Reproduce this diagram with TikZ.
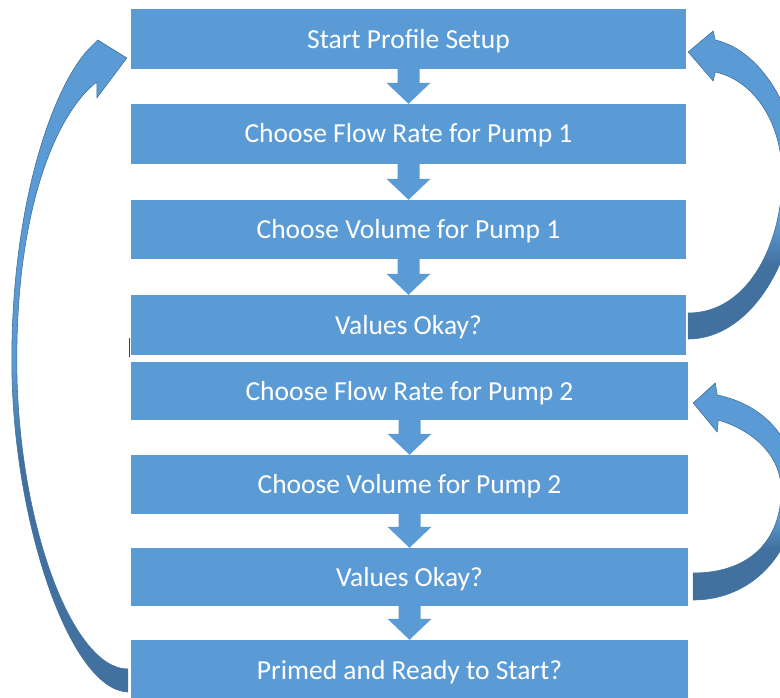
\documentclass[tikz,border=0pt]{standalone}
\usepackage{fontspec}
\setmainfont{Carlito}
\usetikzlibrary{calc}

\definecolor{boxblue}{RGB}{91,155,213}
\definecolor{ribbonlight}{RGB}{91,155,213}
\definecolor{ribbondark}{RGB}{66,113,160}
\definecolor{edgeblue}{RGB}{65,113,156}

% light upper face, darker underside of the looping ribbons
\pgfdeclareverticalshading{ribbon}{100bp}{color(0bp)=(ribbondark); color(37bp)=(ribbondark); color(44bp)=(ribbonlight); color(100bp)=(ribbonlight)}
\pgfdeclareverticalshading{ribbonlong}{100bp}{color(0bp)=(ribbondark); color(43bp)=(ribbondark); color(50bp)=(ribbonlight); color(100bp)=(ribbonlight)}

% short block arrow from the bottom of one step to the top of the next
\newcommand\dnarrow[2]{%
  \fill[flowarrow] ($(#1.south)+(-11,-1)$) -- ($(#2.north)+(-11,-21)$)
    -- ($(#2.north)+(-22,-21)$) -- (#2.north) -- ($(#2.north)+(22,-21)$)
    -- ($(#2.north)+(11,-21)$) -- ($(#1.south)+(11,-1)$) -- cycle;}

\begin{document}
\begin{tikzpicture}[x=1pt,y=-1pt,
  stepbox/.style={fill=boxblue, text=white, inner sep=0pt, minimum height=59pt,
    text height=18pt, text depth=0pt, font=\fontsize{27.5}{32}\selectfont},
  wide/.style={minimum width=555pt},
  wider/.style={minimum width=557pt},
  flowarrow/.style={fill=boxblue},
  loopback/.style={shade, shading=ribbon, draw=edgeblue, line width=0.6pt, line join=round}]

\useasboundingbox (0,0) rectangle (780,698);
\clip (0,0) rectangle (780,698);

% steps
\node[stepbox, wide, minimum height=60pt] (b1) at (408.5,39.5) {Start Profile Setup};
\node[stepbox, wide, minimum height=60pt] (b2) at (408.5,134) {Choose Flow Rate for Pump 1};
\node[stepbox, wide] (b3) at (408.5,229.5) {Choose Volume for Pump 1};
\node[stepbox, wide, minimum height=60pt] (b4) at (408.5,325) {Values Okay?};
\node[stepbox, wider, minimum height=58pt] (b5) at (409.5,391) {Choose Flow Rate for Pump 2};
\node[stepbox, wider] (b6) at (409.5,484.5) {Choose Volume for Pump 2};
\node[stepbox, wider, minimum height=58pt] (b7) at (409.5,577) {Values Okay?};
\node[stepbox, wider, minimum height=60pt] (b8) at (409.5,670) {Primed and Ready to Start?};

% forward arrows
\dnarrow{b1}{b2}
\dnarrow{b2}{b3}
\dnarrow{b3}{b4}
\dnarrow{b5}{b6}
\dnarrow{b6}{b7}
\dnarrow{b7}{b8}

% loop back: first check returns to the start
\coordinate (t1) at ($(b4.east)+(2,0)$);
\coordinate (p1) at ($(b1.east)+(2,12.5)$);
\path[loopback] ($(t1)+(0,-12)$) -- ($(t1)+(0,14)$)
  .. controls +(62,0) and +(0,85) .. ($(t1)+(110,-150)$)
  .. controls +(0,-65) and +(45,10) .. ($(p1)+(27,-12)$)
  -- ($(p1)+(25,-21)$) -- (p1) -- ($(p1)+(25,29)$) -- ($(p1)+(27,20)$)
  .. controls +(37,8) and +(0,-57) .. ($(t1)+(94,-148)$)
  .. controls +(0,63) and +(62,0) .. ($(t1)+(0,-12)$) -- cycle;

% loop back: second check returns to pump 2 flow rate
\coordinate (t2) at ($(b7.east)+(5,9)$);
\coordinate (p2) at ($(b5.east)+(5,12)$);
\path[loopback] ($(t2)+(0,-13)$) -- ($(t2)+(0,14)$)
  .. controls +(57,0) and +(0,65) .. ($(t2)+(103,-96)$)
  .. controls +(0,-50) and +(48,10) .. ($(p2)+(24,-8)$)
  -- ($(p2)+(22,-20)$) -- (p2) -- ($(p2)+(24,29)$) -- ($(p2)+(25,17)$)
  .. controls +(34,10) and +(0,-35) .. ($(t2)+(88,-96)$)
  .. controls +(0,50) and +(57,0) .. ($(t2)+(0,-13)$) -- cycle;

% loop back: primed check returns to the start
\coordinate (t3) at ($(b8.west)+(-3,10)$);
\coordinate (p3) at ($(b1.west)+(-4,18.5)$);
\path[loopback, shading=ribbonlong] ($(t3)+(0,-11)$) -- ($(t3)+(0,12)$)
  .. controls +(-58,-2) and +(0,160) .. ($(t3)+(-116,-320)$)
  .. controls +(0,-160) and +(-38,35) .. ($(p3)+(-34,-13)$)
  -- ($(p3)+(-29,-18)$) -- (p3) -- ($(p3)+(-30,40)$) -- ($(p3)+(-30,24)$)
  .. controls +(-37,28) and +(0,-160) .. ($(t3)+(-111,-320)$)
  .. controls +(0,160) and +(-56,0) .. ($(t3)+(0,-11)$) -- cycle;

% text cursor mark at the edge of the first check
\draw[black!75, line width=1.3pt] ($(b4.south west)+(-1,-17)$) -- ($(b4.south west)+(-1,2)$);
\end{tikzpicture}
\end{document}
